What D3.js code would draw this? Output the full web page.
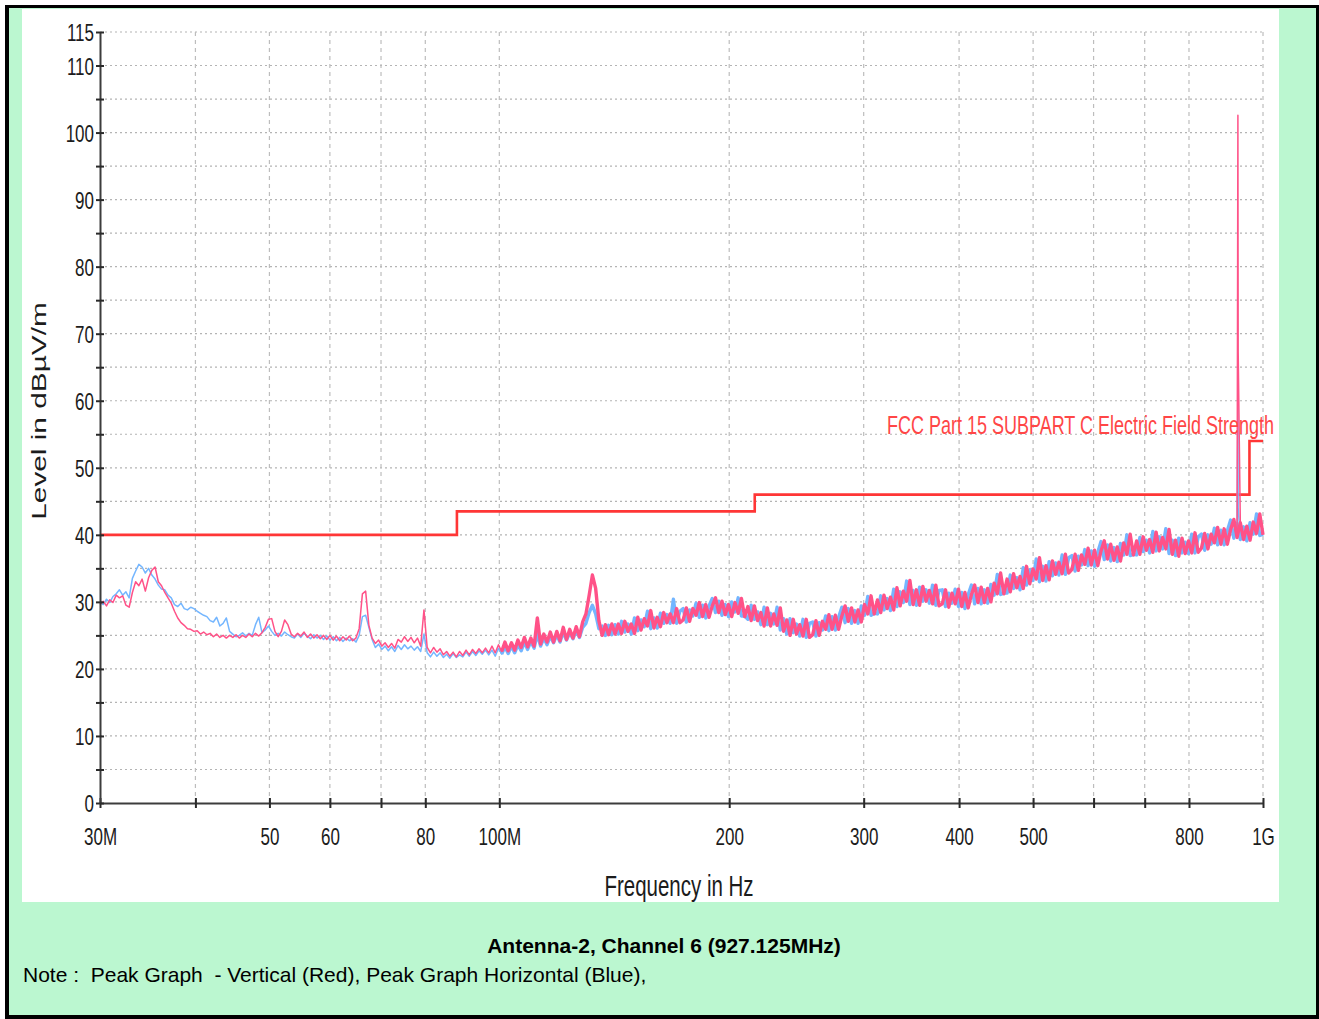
<!DOCTYPE html>
<html>
<head>
<meta charset="utf-8">
<script src="https://cdn.jsdelivr.net/npm/d3@7"></script>
<style>
  html, body { margin: 0; padding: 0; background: #ffffff; }
  svg { display: block; }
  text { font-family: "Liberation Sans", Arial, Helvetica, sans-serif; }
</style>
</head>
<body>
<svg id="chart" width="1319" height="1019"></svg>
<script>
// ---- Sweep definition (log-stepped receiver sweep, 360 points) ----
const sweepStartMHz = 30;
const sweepStopMHz = 1000;
// Above this frequency the sweep holds several samples per pixel column
const denseFromMHz = 100;

// Peak detector, vertical antenna polarisation (dBµV/m)
const peakVertical = [
  29.6, 30.1, 29.4, 30.3, 29.9, 31.0, 30.6, 30.9, 29.5, 29.2, 31.4, 33.0, 32.4, 33.4, 31.6, 33.6, 34.7, 35.2, 33.0, 32.4,
  31.4, 30.6, 29.8, 28.6, 27.6, 26.9, 26.5, 26.0, 25.9, 25.6, 25.7, 25.2, 25.5, 25.1, 25.3, 24.8, 25.2, 24.7, 25.0, 24.6,
  25.0, 24.7, 25.1, 24.6, 25.0, 24.7, 25.2, 24.8, 25.3, 24.9, 25.4, 26.2, 27.4, 27.5, 25.6, 24.8, 25.6, 27.3, 26.6, 25.2,
  24.8, 25.3, 24.9, 25.5, 24.7, 25.2, 24.6, 25.1, 24.5, 25.0, 24.4, 25.0, 24.3, 24.9, 24.2, 24.8, 24.3, 24.9, 24.2, 24.6,
  26.0, 31.2, 31.6, 26.5, 24.6, 23.8, 24.3, 23.4, 23.9, 23.2, 23.8, 23.1, 24.4, 24.0, 24.8, 24.1, 24.7, 23.9, 24.6, 23.4,
  28.8, 23.2, 22.4, 23.2, 22.5, 23.0, 22.1, 22.6, 21.9, 22.5, 21.8, 22.6, 22.0, 22.8, 22.1, 22.9, 22.3, 23.0, 22.4, 23.1,
  22.4, 23.4, 22.4, 23.6, 22.6, 24.0, 22.7, 23.9, 22.8, 24.3, 23.2, 24.7, 23.3, 24.6, 23.4, 27.6, 23.7, 25.2, 24.0, 25.5,
  24.0, 25.6, 24.2, 26.2, 24.4, 25.9, 24.6, 26.3, 24.8, 27.0, 28.2, 31.0, 34.0, 32.0, 27.2, 25.0, 26.6, 25.1, 26.7, 25.2,
  26.7, 25.3, 27.1, 25.6, 26.7, 25.3, 27.7, 25.8, 27.5, 26.4, 28.7, 26.1, 27.7, 26.3, 28.4, 26.9, 28.2, 26.9, 29.0, 26.9,
  27.3, 29.1, 27.1, 29.0, 28.0, 29.9, 27.8, 29.6, 27.7, 29.4, 30.6, 28.4, 30.1, 28.1, 29.6, 27.8, 29.9, 28.3, 30.5, 27.8,
  29.3, 27.2, 29.4, 27.2, 28.4, 26.4, 29.1, 26.4, 28.2, 26.5, 29.1, 25.6, 27.3, 25.0, 27.4, 25.2, 26.6, 24.9, 27.4, 24.7,
  25.1, 27.2, 25.0, 27.1, 25.9, 28.1, 25.9, 28.0, 25.9, 27.9, 29.4, 27.1, 29.1, 27.0, 28.8, 27.0, 29.6, 28.2, 30.9, 28.2,
  30.3, 28.4, 31.0, 29.0, 30.7, 28.8, 32.1, 29.4, 31.6, 30.1, 33.2, 29.6, 31.8, 29.5, 32.3, 30.1, 31.7, 29.7, 32.5, 29.4,
  29.7, 31.8, 29.2, 31.3, 29.7, 31.9, 29.3, 31.4, 29.1, 31.1, 32.5, 29.9, 32.2, 29.9, 32.0, 30.0, 32.8, 31.2, 34.3, 31.2,
  33.4, 31.5, 34.2, 32.1, 33.8, 32.0, 35.3, 32.7, 34.9, 33.4, 36.6, 33.2, 35.4, 33.3, 36.1, 34.1, 35.9, 34.2, 37.1, 34.3,
  34.8, 37.1, 34.7, 37.0, 35.6, 38.0, 35.5, 37.7, 35.4, 37.6, 39.1, 36.4, 38.6, 36.2, 38.2, 36.1, 38.8, 37.1, 40.1, 37.0,
  39.1, 37.1, 39.7, 37.7, 39.3, 37.4, 40.4, 37.6, 39.6, 37.9, 40.8, 37.1, 39.2, 36.8, 39.5, 37.2, 39.1, 37.3, 40.3, 37.4,
  38.0, 40.2, 37.9, 40.1, 38.8, 41.1, 38.6, 40.9, 38.6, 40.8, 42.3, 39.6, 41.8, 39.3, 41.3, 39.2, 41.9, 40.2, 43.1, 40.0
];

// Peak detector, horizontal antenna polarisation (dBµV/m)
const peakHorizontal = [
  30.0, 29.6, 30.4, 29.9, 30.8, 31.2, 31.8, 31.0, 31.5, 30.6, 33.5, 34.6, 35.6, 35.2, 34.3, 35.0, 34.0, 33.4, 32.5, 31.9,
  31.8, 31.0, 30.6, 29.6, 29.3, 29.8, 29.0, 28.8, 29.2, 29.0, 28.6, 28.3, 28.0, 27.8, 27.2, 27.0, 27.7, 26.4, 26.8, 27.6,
  25.6, 25.2, 24.8, 25.0, 25.4, 24.9, 25.3, 25.0, 26.6, 27.7, 25.4, 25.8, 26.4, 25.6, 25.0, 25.3, 24.9, 25.5, 25.1, 24.8,
  24.6, 25.2, 24.7, 25.3, 24.9, 24.5, 25.1, 24.6, 25.0, 24.4, 24.9, 24.3, 24.8, 24.2, 24.7, 24.1, 24.6, 24.2, 24.5, 24.0,
  25.0, 27.8, 28.0, 26.2, 24.4, 23.2, 23.7, 22.9, 23.4, 22.7, 23.3, 22.6, 23.5, 22.9, 23.6, 23.0, 23.4, 22.8, 23.3, 22.6,
  25.2, 22.4, 21.8, 22.5, 21.9, 22.4, 21.7, 22.2, 21.6, 22.3, 21.7, 22.1, 21.8, 22.5, 21.9, 22.6, 22.0, 22.7, 22.2, 22.8,
  22.1, 22.8, 21.9, 23.1, 22.2, 23.3, 22.3, 23.4, 22.4, 23.6, 22.7, 24.0, 22.9, 24.1, 23.1, 25.2, 23.4, 24.6, 23.6, 24.9,
  23.9, 25.1, 24.0, 25.5, 24.3, 25.4, 24.5, 25.7, 24.7, 26.2, 26.8, 28.4, 29.5, 28.2, 26.0, 26.4, 25.0, 26.5, 25.1, 26.6,
  25.2, 27.1, 25.5, 26.7, 25.2, 27.6, 25.7, 27.3, 26.3, 28.6, 26.0, 27.6, 26.1, 28.3, 26.8, 28.1, 26.8, 30.4, 26.8, 28.6,
  29.0, 27.0, 28.8, 27.9, 29.8, 27.7, 29.5, 27.6, 29.4, 30.5, 28.4, 30.1, 28.0, 29.6, 27.8, 30.0, 28.5, 30.6, 27.9, 27.9,
  27.4, 29.5, 27.4, 28.5, 26.6, 29.2, 26.6, 28.3, 26.7, 29.2, 25.8, 27.5, 25.2, 27.5, 25.4, 26.7, 24.9, 27.4, 24.7, 26.8,
  27.0, 24.9, 26.9, 25.8, 27.9, 25.7, 27.8, 25.8, 27.7, 29.2, 26.9, 29.0, 26.8, 28.7, 26.8, 29.4, 28.0, 30.8, 28.0, 28.3,
  28.2, 30.9, 28.8, 30.5, 28.7, 31.9, 29.3, 31.5, 29.9, 33.1, 29.6, 31.7, 29.5, 32.2, 30.1, 31.8, 29.8, 32.5, 29.5, 31.7,
  31.8, 29.3, 31.3, 29.8, 31.9, 29.3, 31.4, 29.0, 31.1, 32.5, 29.7, 32.0, 29.7, 31.8, 29.8, 32.6, 31.0, 34.1, 31.1, 31.3,
  31.3, 34.0, 32.0, 33.6, 31.8, 35.1, 32.5, 34.8, 33.2, 36.4, 33.0, 35.3, 33.1, 36.0, 33.9, 35.8, 34.0, 37.0, 34.1, 36.6,
  36.9, 34.6, 36.8, 35.5, 37.8, 35.4, 37.6, 35.3, 37.4, 39.0, 36.3, 38.5, 36.1, 38.1, 36.0, 38.7, 37.0, 40.0, 36.9, 37.1,
  37.0, 39.6, 37.5, 39.2, 37.3, 40.5, 37.6, 39.7, 37.9, 40.9, 37.2, 39.2, 36.9, 39.5, 37.3, 38.9, 37.2, 40.1, 37.3, 39.7,
  40.1, 37.7, 40.0, 38.6, 41.0, 38.5, 40.7, 38.5, 40.6, 42.2, 39.5, 41.7, 39.3, 41.2, 39.1, 41.8, 40.1, 43.1, 39.9, 40.1
];

// Carrier of the device under test (Channel 6)
const carrierMHz = [927.125, 927.9];
const carrierVertical = [102.6, 67.3];
const carrierHorizontal = [60.2, 44.0];

// FCC Part 15 Subpart C field strength limit (step edges)
const limitEdgesMHz = [30, 88, 216, 960, 1000];
const limitLevels = [40, 43.5, 46, 54, 54];

// Axis ticks
const xTickMHz = [30, 40, 50, 60, 70, 80, 100, 200, 300, 400, 500, 600, 700, 800, 1000];
const xTickText = ["30M", "", "50", "60", "", "80", "100M", "200", "300", "400", "500", "", "", "800", "1G"];
const yTickValues = [0, 5, 10, 15, 20, 25, 30, 35, 40, 45, 50, 55, 60, 65, 70, 75, 80, 85, 90, 95, 100, 105, 110, 115];
const yTickText = ["0", "", "10", "", "20", "", "30", "", "40", "", "50", "", "60", "", "70", "", "80", "", "90", "", "100", "", "110", "115"];

// ---- Layout ----
const W = 1319, H = 1019;
const plot = { left: 100, right: 1263, top: 32, bottom: 803 };
const STRETCH = 1.42; // the chart artwork is drawn vertically stretched

const svg = d3.select("#chart");

// Page frame
svg.append("rect").attr("x", 5).attr("y", 5).attr("width", W - 5).attr("height", H - 5).attr("fill", "#000");
svg.append("rect").attr("x", 9).attr("y", 8).attr("width", 1307).attr("height", 1007).attr("fill", "#bbf7d0");
svg.append("rect").attr("x", 22).attr("y", 9).attr("width", 1257).attr("height", 893).attr("fill", "#fff");

const x = d3.scaleLog().domain([sweepStartMHz, sweepStopMHz]).range([plot.left, plot.right]);
const y = d3.scaleLinear().domain([0, 115]).range([plot.bottom, plot.top]);

// Grid
const grid = svg.append("g");
grid.selectAll("line.h").data(yTickValues.filter(v => v > 0)).join("line")
  .attr("x1", plot.left).attr("x2", plot.right)
  .attr("y1", d => y(d)).attr("y2", d => y(d))
  .attr("stroke", "#b4b4b4").attr("stroke-width", 1.2).attr("stroke-dasharray", "2,3");
grid.selectAll("line.v").data(xTickMHz.filter(f => f > sweepStartMHz)).join("line")
  .attr("x1", d => x(d)).attr("x2", d => x(d))
  .attr("y1", plot.top).attr("y2", plot.bottom)
  .attr("stroke", "#bdbdbd").attr("stroke-width", 1.2).attr("stroke-dasharray", "4,4");

// Limit line
const limitPts = limitEdgesMHz.map((f, i) => ({ f, v: limitLevels[i] }));
svg.append("path")
  .attr("d", d3.line().x(d => x(d.f)).y(d => y(d.v)).curve(d3.curveStepAfter)(limitPts))
  .attr("fill", "none").attr("stroke", "#ff3636").attr("stroke-width", 2.6);

// Traces
const N = peakVertical.length;
const sweepMHz = d3.range(N).map(i => sweepStartMHz * Math.pow(sweepStopMHz / sweepStartMHz, i / (N - 1)));

function trace(values, carrier) {
  const pts = values.map((v, i) => ({ f: sweepMHz[i], v }));
  carrierMHz.forEach((f, i) => pts.push({ f, v: carrier[i] }));
  return pts.sort((a, b) => a.f - b.f);
}
function denseSamples(values) {
  return values.map((v, i) => ({ f: sweepMHz[i], v })).filter(d => d.f >= denseFromMHz);
}
const line = d3.line().x(d => x(d.f)).y(d => y(d.v));

const series = [
  { values: peakHorizontal, carrier: carrierHorizontal, color: "#74b6ff" },
  { values: peakVertical, carrier: carrierVertical, color: "#ff5288" }
];
series.forEach(s => {
  // dense part of the sweep: heavier stroke so the samples merge into a band
  svg.append("path").attr("d", line(denseSamples(s.values)))
    .attr("fill", "none").attr("stroke", s.color).attr("stroke-width", 3.4)
    .attr("stroke-linejoin", "round");
  svg.append("path").attr("d", line(trace(s.values, s.carrier)))
    .attr("fill", "none").attr("stroke", s.color).attr("stroke-width", 1.5)
    .attr("stroke-linejoin", "round");
});

// Axes
const xAxis = svg.append("g").attr("transform", `translate(0,${plot.bottom})`)
  .call(d3.axisBottom(x).tickValues(xTickMHz).tickSizeOuter(0).tickFormat((d, i) => xTickText[i]));
const yAxis = svg.append("g").attr("transform", `translate(${plot.left},0)`)
  .call(d3.axisLeft(y).tickValues(yTickValues).tickSizeOuter(0).tickFormat((d, i) => yTickText[i]));

[xAxis, yAxis].forEach(g => {
  g.select(".domain").attr("stroke", "#3c3c3c").attr("stroke-width", 2);
  g.selectAll(".tick line").attr("stroke", "#2a2a2a").attr("stroke-width", 2);
  g.selectAll(".tick text").attr("fill", "#1c1c1c").attr("font-size", 17)
    .attr("font-family", "'Liberation Sans', Arial, sans-serif");
});
xAxis.selectAll(".tick line").attr("y1", -5).attr("y2", 5);
xAxis.selectAll(".tick text").attr("y", 0).attr("dy", null)
  .attr("transform", `translate(0,42) scale(1,${STRETCH})`);
yAxis.selectAll(".tick line").attr("x1", -4).attr("x2", 4);
yAxis.selectAll(".tick text").attr("x", 0).attr("dy", null)
  .attr("transform", `translate(-6,8.6) scale(1,${STRETCH})`);

// Axis titles
svg.append("text").attr("transform", `translate(679,896) scale(1,${STRETCH})`)
  .attr("text-anchor", "middle").attr("font-size", 20.5).attr("fill", "#1c1c1c")
  .text("Frequency in Hz");
svg.append("text").attr("transform", `translate(46,411) rotate(-90) scale(${STRETCH},1)`)
  .attr("text-anchor", "middle").attr("font-size", 21).attr("fill", "#1c1c1c")
  .text("Level in dBµV/m");

// Limit label
svg.append("text").attr("transform", `translate(887,434) scale(1,${STRETCH})`)
  .attr("font-size", 18).attr("fill", "#ff4646")
  .text("FCC Part 15 SUBPART C Electric Field Strength");

// Captions
svg.append("text").attr("x", 664).attr("y", 953).attr("text-anchor", "middle")
  .attr("font-size", 21).attr("font-weight", "bold").attr("fill", "#000")
  .text("Antenna-2, Channel 6 (927.125MHz)");
svg.append("text").attr("x", 23).attr("y", 982).attr("font-size", 21).attr("fill", "#000")
  .style("white-space", "pre")
  .text("Note :  Peak Graph  - Vertical (Red), Peak Graph Horizontal (Blue),");
</script>
</body>
</html>
